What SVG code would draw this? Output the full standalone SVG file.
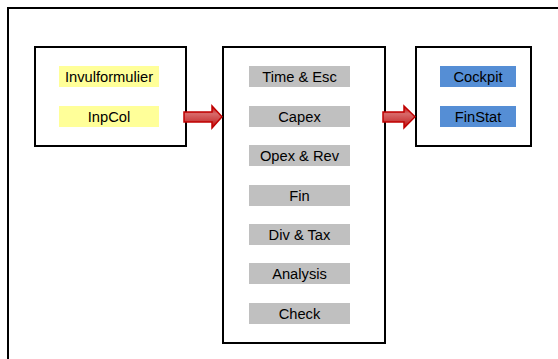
<svg xmlns="http://www.w3.org/2000/svg" width="558" height="359" viewBox="0 0 558 359">
<defs>
<linearGradient id="ag" x1="0" y1="0" x2="0" y2="1">
<stop offset="0" stop-color="#C00000"/>
<stop offset="0.35" stop-color="#D86A6A"/>
<stop offset="0.65" stop-color="#CC4444"/>
<stop offset="1" stop-color="#C00000"/>
</linearGradient>
</defs>
<style>
.frame{fill:#fff;stroke:#000;stroke-width:2}
.box{fill:none;stroke:#000;stroke-width:2}
.y{fill:#FFFF99}
.g{fill:#C0C0C0}
.b{fill:#558ED5}
text{font-family:"Liberation Sans",Arial,sans-serif;font-size:14.7px;fill:#000;text-anchor:middle}
.arrow{fill:url(#ag);stroke:#C00000;stroke-width:1.5;stroke-linejoin:miter}
</style>
<rect x="0" y="0" width="558" height="359" fill="#fff"/>
<rect class="frame" x="8" y="8" width="560" height="360"/>
<g id="inputs">
<rect class="box" x="35" y="47" width="151" height="99"/>
<rect class="y" x="59" y="66" width="100" height="21"/>
<text x="109" y="81.5">Invulformulier</text>
<rect class="y" x="59" y="106" width="100" height="21"/>
<text x="109" y="121.5">InpCol</text>
</g>
<g id="calc">
<rect class="box" x="223" y="47" width="162" height="296"/>
<rect class="g" x="249" y="66" width="101" height="21"/>
<text x="299.5" y="81.5">Time &amp; Esc</text>
<rect class="g" x="249" y="106" width="101" height="21"/>
<text x="299.5" y="121.5">Capex</text>
<rect class="g" x="249" y="145" width="101" height="21"/>
<text x="299.5" y="160.5">Opex &amp; Rev</text>
<rect class="g" x="249" y="185" width="101" height="21"/>
<text x="299.5" y="200.5">Fin</text>
<rect class="g" x="249" y="224" width="101" height="21"/>
<text x="299.5" y="239.5">Div &amp; Tax</text>
<rect class="g" x="249" y="263" width="101" height="21"/>
<text x="299.5" y="278.5">Analysis</text>
<rect class="g" x="249" y="303" width="101" height="21"/>
<text x="299.5" y="318.5">Check</text>
</g>
<g id="outputs">
<rect class="box" x="416" y="47" width="115" height="99"/>
<rect class="b" x="440" y="66" width="76" height="21"/>
<text x="478" y="81.5">Cockpit</text>
<rect class="b" x="440" y="106" width="76" height="21"/>
<text x="478" y="121.5">FinStat</text>
</g>
<g id="connectors">
<path class="arrow" d="M184,112 L212,112 L212,106 L222,116.8 L212,128 L212,122 L184,122 Z"/>
<path class="arrow" d="M383,112 L404,112 L404,106 L415,116.8 L404,128 L404,122 L383,122 Z"/>
</g>
</svg>
